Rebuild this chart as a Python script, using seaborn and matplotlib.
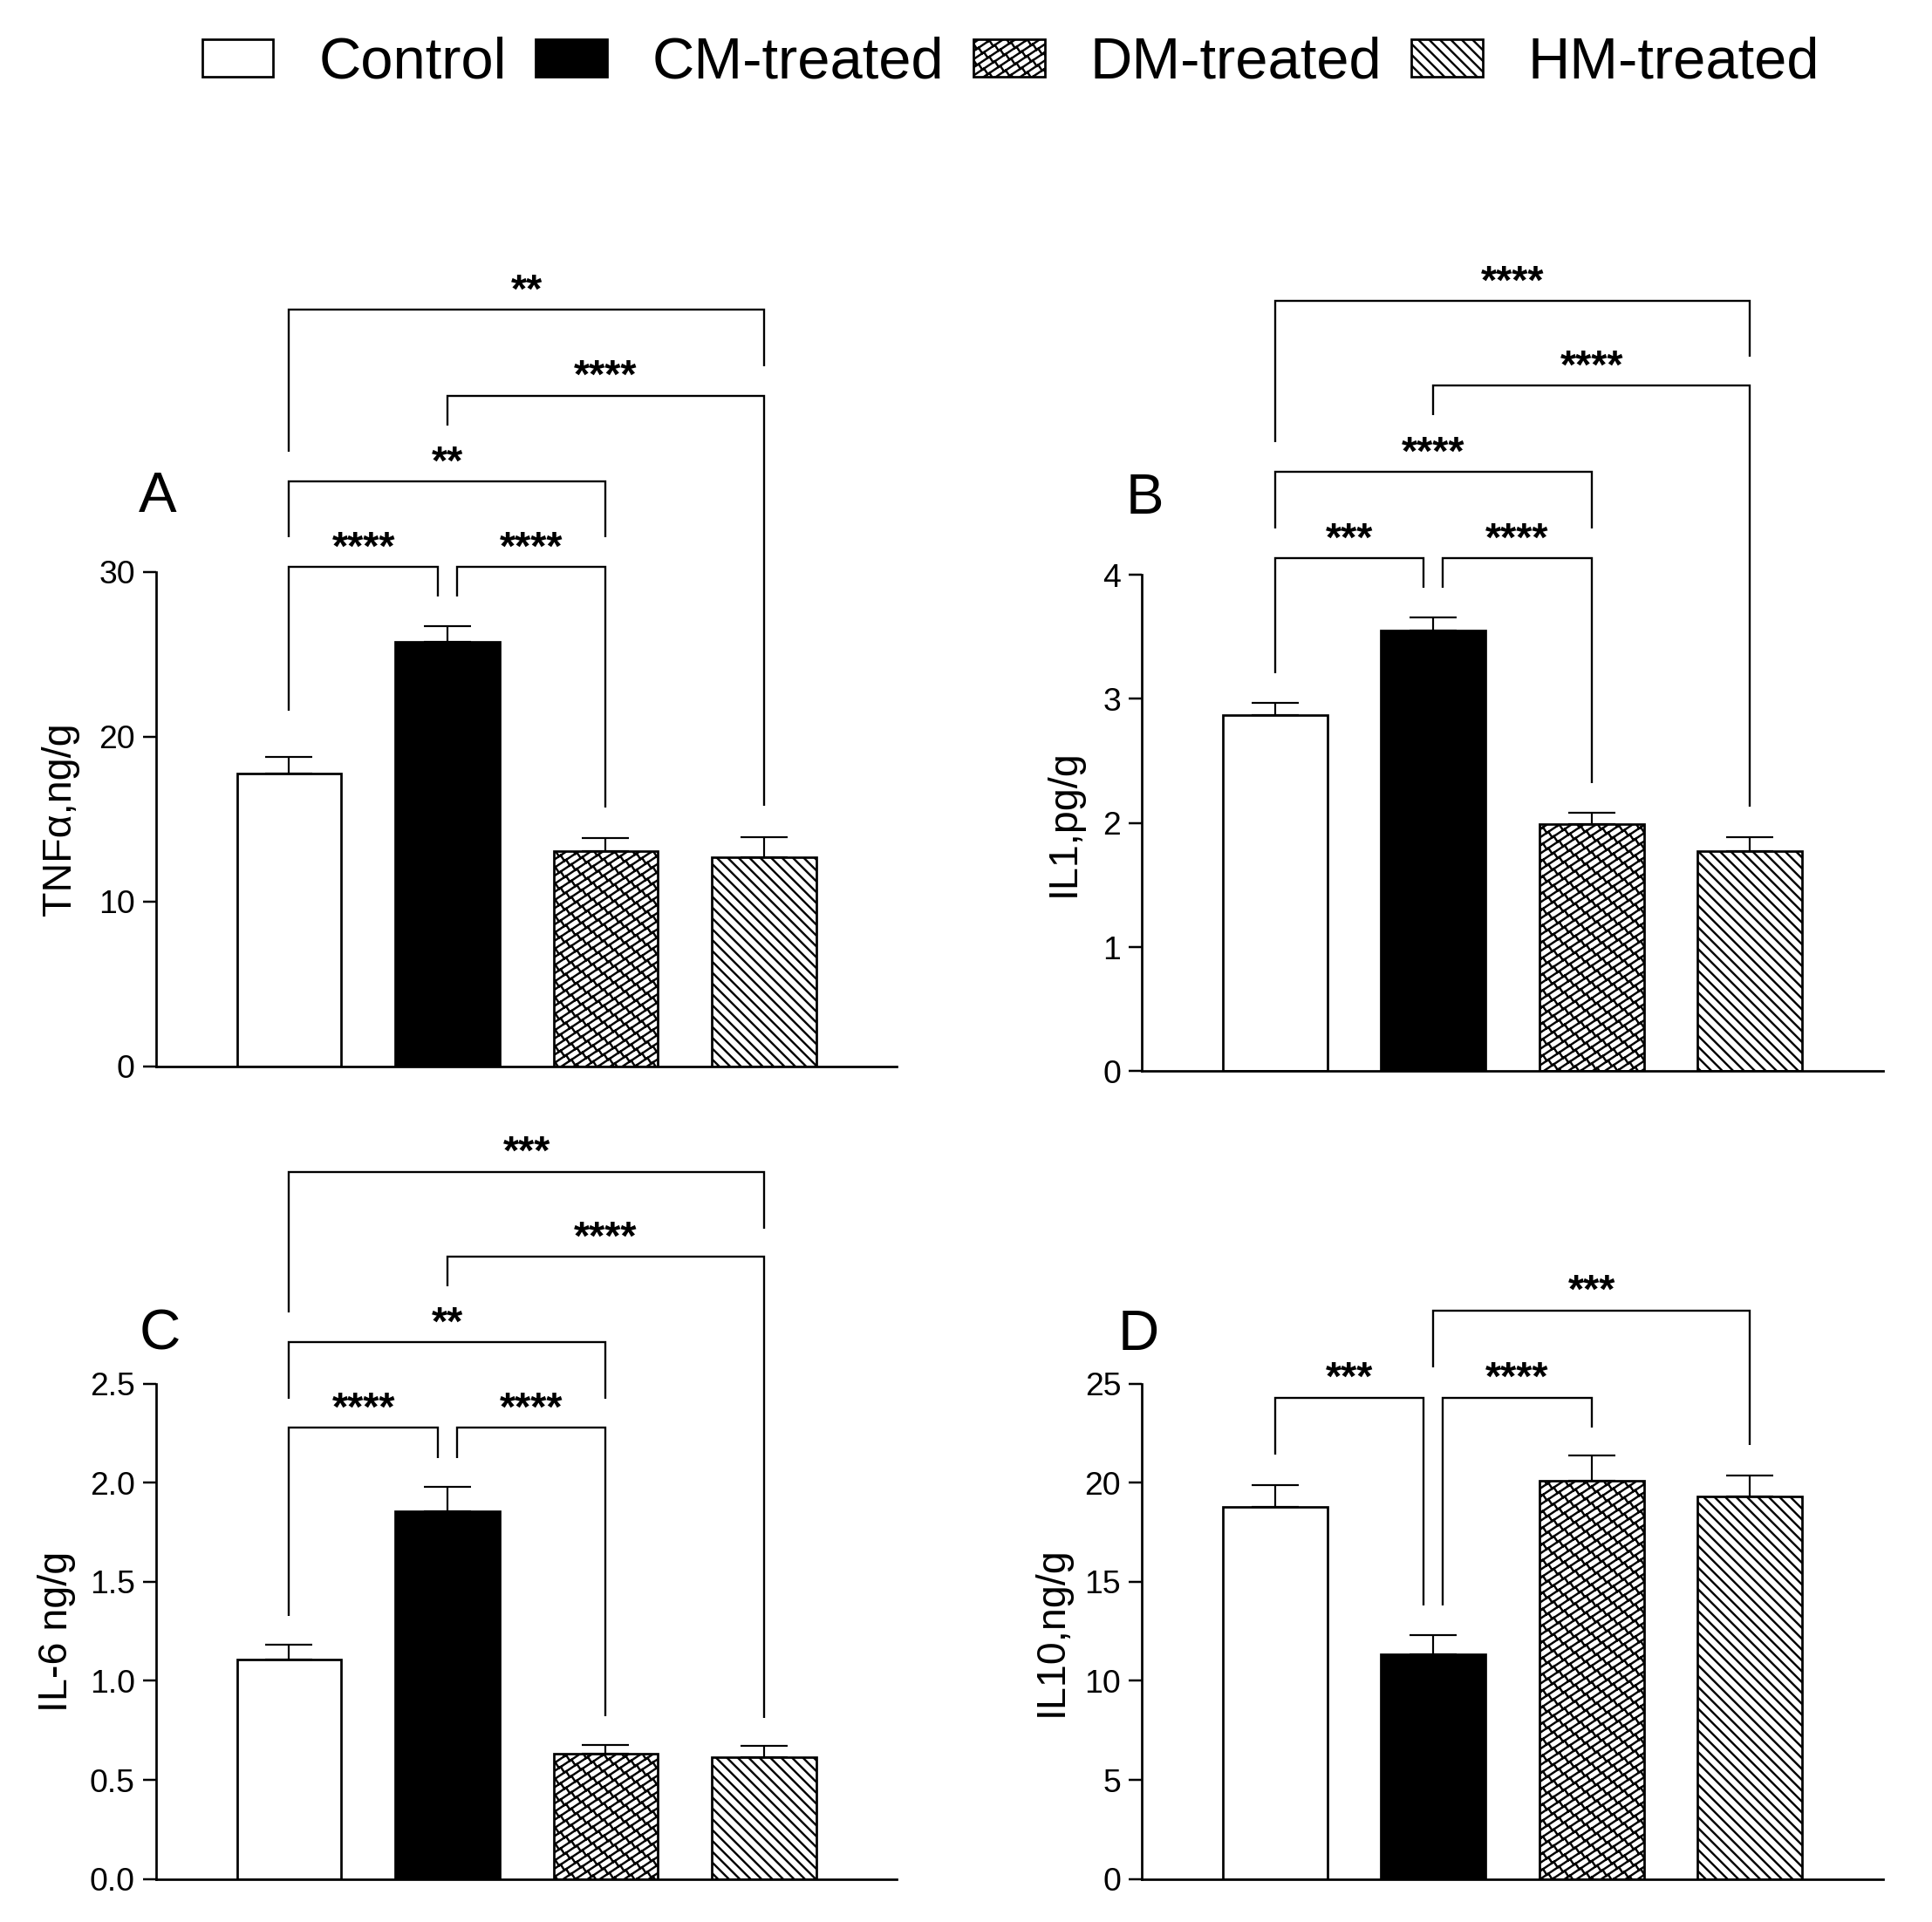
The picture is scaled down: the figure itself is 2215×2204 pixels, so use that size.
import numpy as np
import matplotlib
matplotlib.use("Agg")
import matplotlib.pyplot as plt
import matplotlib.hatch as mhatch
from matplotlib.path import Path
from matplotlib.patches import Patch
from matplotlib.ticker import FormatStrFormatter
import seaborn as sns

# ---------------- data ----------------
groups = ["Control", "CM-treated", "DM-treated", "HM-treated"]

tnf_mean = [17.75, 25.77, 13.07, 12.71]
tnf_err = [1.04, 0.94, 0.77, 1.20]
il1_mean = [2.87, 3.555, 1.99, 1.77]
il1_err = [0.10, 0.105, 0.096, 0.118]
il6_mean = [1.108, 1.856, 0.631, 0.613]
il6_err = [0.073, 0.125, 0.044, 0.057]
il10_mean = [18.77, 11.36, 20.10, 19.29]
il10_err = [1.13, 0.97, 1.26, 1.08]

ylabels = ["TNF\u03b1,ng/g", "IL1,pg/g", "IL-6 ng/g", "IL10,ng/g"]
panel_letters = ["A", "B", "C", "D"]

# significance brackets: (group_i, group_j, bracket level, foot at i, foot at j, stars)
tnf_sig = [(0, 1, 30.3, 21.6, 28.5, "****"),
           (1, 2, 30.3, 28.5, 15.7, "****"),
           (0, 2, 35.5, 32.1, 32.1, "**"),
           (1, 3, 40.7, 38.9, 15.8, "****"),
           (0, 3, 45.9, 37.3, 42.5, "**")]
il1_sig = [(0, 1, 4.134, 3.205, 3.896, "***"),
           (1, 2, 4.134, 3.896, 2.324, "****"),
           (0, 2, 4.83, 4.375, 4.375, "****"),
           (1, 3, 5.525, 5.29, 2.13, "****"),
           (0, 3, 6.21, 5.07, 5.76, "****")]
il6_sig = [(0, 1, 2.277, 1.329, 2.124, "****"),
           (1, 2, 2.277, 2.124, 0.823, "****"),
           (0, 2, 2.708, 2.425, 2.425, "**"),
           (1, 3, 3.141, 2.993, 0.813, "****"),
           (0, 3, 3.57, 2.861, 3.284, "***")]
il10_sig = [(0, 1, 24.3, 21.4, 13.8, "***"),
            (1, 2, 24.3, 13.8, 22.8, "****"),
            (1, 3, 28.7, 25.8, 21.9, "***")]

y_limits = [(0, 30), (0, 4), (0, 2.5), (0, 25)]
y_ticks = [[0, 10, 20, 30], [0, 1, 2, 3, 4], [0, 0.5, 1.0, 1.5, 2.0, 2.5], [0, 5, 10, 15, 20, 25]]


# ---------------- custom brick hatch (GraphPad-like) ----------------
def _brick_segments(slope=2 / 3, rows=12, bricks=9):
    segs = []
    s = 1.0 / (rows * (1 + slope ** 2))
    for k in range(-12, rows + 4):
        c = k / rows
        segs.append(((-0.3, -0.3 * slope + c), (1.3, 1.3 * slope + c)))
        for j in range(-3, bricks + 4):
            t = (j + 0.5 * (k % 2)) / bricks
            segs.append(((t, slope * t + c), (t - slope * s, slope * t + c + s)))
    return segs


try:
    class BrickHatch(mhatch.HatchPatternBase):
        def __init__(self, hatch, density):
            self.segs = _brick_segments() if "." in hatch else []
            self.num_vertices = 2 * len(self.segs)

        def set_vertices_and_codes(self, vertices, codes):
            v = np.asarray(self.segs, dtype=float).reshape(-1, 2)
            vertices[:] = v
            codes[0::2] = Path.MOVETO
            codes[1::2] = Path.LINETO

    mhatch._hatch_types = [BrickHatch if cls is mhatch.SmallFilledCircles else cls
                           for cls in mhatch._hatch_types]
    DM_HATCH = "."
except Exception:
    DM_HATCH = "xxx"

# ---------------- style ----------------
DPI = 112
sns.set_theme(style="ticks")
plt.rcParams["font.family"] = ["Liberation Sans", "DejaVu Sans"]
plt.rcParams["hatch.linewidth"] = 1.55
plt.rcParams["axes.linewidth"] = 1.75
for key in ["text.color", "axes.labelcolor", "xtick.color", "ytick.color", "axes.edgecolor"]:
    plt.rcParams[key] = "black"

faces = ["white", "black", "white", "white"]
hatches = [None, None, DM_HATCH, "\\\\\\"]
LW = 1.75

fig = plt.figure(figsize=(2215 / DPI, 2204 / DPI), dpi=DPI)

axes_rects = [[0.0808, 0.4451, 0.3835, 0.2573],
              [0.5911, 0.4427, 0.3835, 0.2582],
              [0.0808, 0.0224, 0.3835, 0.2577],
              [0.5911, 0.0224, 0.3835, 0.2577]]
letter_pos = [(0.0817, 0.7414), (0.5925, 0.7405), (0.0827, 0.3055), (0.5895, 0.3055)]
ylabel_x = [-0.104, -0.080, -0.108, -0.096]

means = [tnf_mean, il1_mean, il6_mean, il10_mean]
errs = [tnf_err, il1_err, il6_err, il10_err]
sigs = [tnf_sig, il1_sig, il6_sig, il10_sig]

for p in range(4):
    ax = fig.add_axes(axes_rects[p])
    sns.barplot(x=groups, y=means[p], ax=ax, width=0.66, color="white",
                edgecolor="black", linewidth=LW, saturation=1, errorbar=None)
    for patch, fc, h in zip(ax.patches, faces, hatches):
        patch.set_facecolor(fc)
        patch.set_edgecolor("black")
        patch.set_linewidth(LW)
        if h:
            patch.set_hatch(h)
    ax.errorbar(np.arange(4), means[p], yerr=[np.zeros(4), errs[p]], fmt="none",
                ecolor="black", elinewidth=1.4, capsize=17.5, capthick=1.4, zorder=3)

    ax.set_xlim(-0.84, 3.84)
    ax.set_ylim(*y_limits[p])
    ax.set_yticks(y_ticks[p])
    if p == 2:
        ax.yaxis.set_major_formatter(FormatStrFormatter("%.1f"))
    ax.tick_params(axis="x", bottom=False, labelbottom=False)
    ax.tick_params(axis="y", length=9.5, width=1.6, pad=6, labelsize=24, colors="black")
    ax.set_xlabel("")
    ax.set_ylabel(ylabels[p], fontsize=30, color="black")
    ax.yaxis.set_label_coords(ylabel_x[p], 0.5)
    sns.despine(ax=ax)
    for sp in ["left", "bottom"]:
        ax.spines[sp].set_color("black")
        ax.spines[sp].set_linewidth(LW)

    for (i, j, yl, fi, fj, lab) in sigs[p]:
        xi, xj = float(i), float(j)
        # nudge the shared CM foot when two brackets meet at the same level
        same_level = [b for b in sigs[p] if b[2] == yl]
        if len(same_level) > 1:
            if j == 1:
                xj -= 0.06
            if i == 1:
                xi += 0.06
        ax.plot([xi, xi, xj, xj], [fi, yl, yl, fj], color="black", lw=1.5,
                clip_on=False, solid_capstyle="butt", solid_joinstyle="miter")
        ax.annotate(lab, xy=((xi + xj) / 2, yl), xytext=(0, 5.5), textcoords="offset points",
                    ha="center", va="baseline", fontsize=30, fontweight="bold",
                    color="black", annotation_clip=False)

    fig.text(letter_pos[p][0], letter_pos[p][1], panel_letters[p], fontsize=42,
             ha="center", va="center", color="black")

handles = [Patch(facecolor=fc, edgecolor="black", hatch=h, linewidth=LW)
           for fc, h in zip(faces, hatches)]
fig.legend(handles, groups, loc="center", bbox_to_anchor=(0.5232, 0.967), ncol=4,
           frameon=False, fontsize=43, handlelength=1.22, handleheight=0.61,
           handletextpad=0.78, columnspacing=0.50, borderpad=0, borderaxespad=0)

fig.savefig("out.png", dpi=DPI)
